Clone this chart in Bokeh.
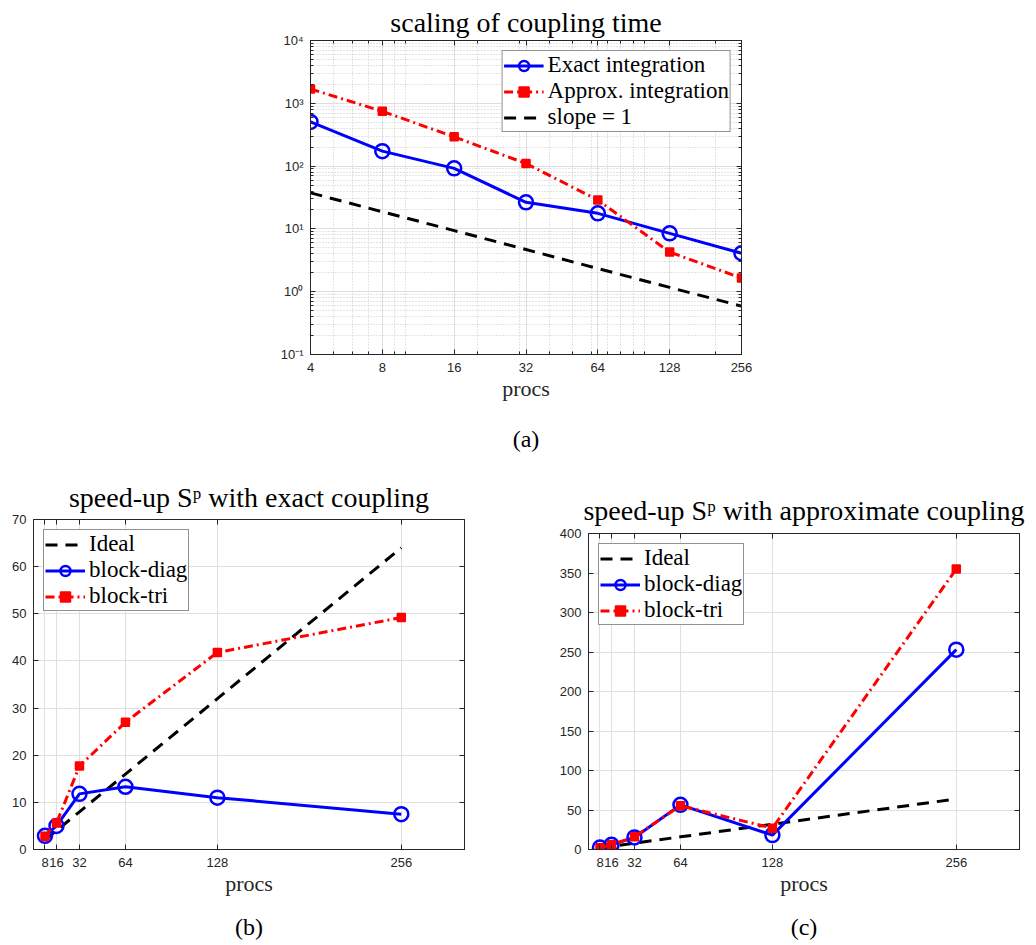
from bokeh.plotting import figure
from bokeh.models import (FixedTicker, CustomJSTickFormatter, LinearAxis, LogAxis,
                          Spacer, Range1d)
from bokeh.layouts import column, row
from bokeh.embed import file_html
from bokeh.resources import INLINE

# ---------------- data ----------------
procs_a = [4, 8, 16, 32, 64, 128, 256]
exact_time = [505, 173, 92, 26.5, 17.7, 8.5, 4.1]
approx_time = [1690, 746, 292, 110, 28.8, 4.27, 1.65]
slope_ref = [37.5, 18.75, 9.4, 4.7, 2.34, 1.17, 0.59]

procs_bc = [8, 16, 32, 64, 128, 256]
ideal = [2, 4, 8, 16, 32, 64]
exact_diag = [2.9, 5.0, 11.8, 13.3, 11.0, 7.5]
exact_tri = [2.8, 5.6, 17.7, 27.0, 41.8, 49.2]
approx_diag = [2.5, 5.9, 15.3, 56.5, 18.2, 253.0]
approx_tri = [2.2, 5.9, 16.0, 55.5, 27.0, 355.0]

xticks_a = [4, 8, 16, 32, 64, 128, 256]
xlabels_a = ["4", "8", "16", "32", "64", "128", "256"]
yticks_a = [0.1, 1, 10, 100, 1000, 10000]
ylabels_a = ["10\u207b\u00b9", "10\u2070", "10\u00b9", "10\u00b2", "10\u00b3", "10\u2074"]
xticks_bc = [8, 16, 32, 64, 128, 256]
xlabels_bc = ["8", "16", "32", "64", "128", "256"]
yticks_b = [0, 10, 20, 30, 40, 50, 60, 70]
yticks_c = [0, 50, 100, 150, 200, 250, 300, 350, 400]

SERIF = "Liberation Serif"
SANS = "Liberation Sans"
AX = "#262626"
GRID = "#dfdfdf"
MINOR = "#c8c8c8"
BLUE = "#0000ff"
RED = "#ff0000"


def label_fmt(tv, tl):
    return CustomJSTickFormatter(args=dict(tv=tv, tl=tl), code="""
        for (let i = 0; i < tv.length; i++) {
            if (Math.abs(tick - tv[i]) <= 1e-6 * Math.max(1, Math.abs(tv[i]))) return tl[i];
        }
        return '';
    """)


def blank_fmt():
    return CustomJSTickFormatter(code="return '';")


def style_axis(ax, ticker, fmt, minor=False):
    ax.ticker = ticker
    ax.formatter = fmt
    ax.axis_line_color = AX
    ax.axis_line_width = 1
    ax.major_tick_line_color = AX
    ax.minor_tick_line_color = AX
    ax.major_tick_in = 5
    ax.major_tick_out = 0
    ax.minor_tick_in = 3 if minor else 0
    ax.minor_tick_out = 0
    ax.major_label_text_font = SANS
    ax.major_label_text_font_size = "13px"
    ax.major_label_text_color = AX
    ax.major_label_standoff = 8


def make_fig(width, height, borders, xr, yr, xtype, ytype, title, xt, xl, yt, yl,
             xminor=None, yminor=None, sub="", title_standoff=5, title_valign="bottom",
             sub_standoff=10):
    p = figure(width=width, height=height, x_axis_type=xtype, y_axis_type=ytype,
               x_range=xr, y_range=yr, toolbar_location=None, output_backend="svg",
               min_border_left=borders[0], min_border_right=borders[1],
               min_border_top=borders[2], min_border_bottom=borders[3])
    p.frame_align = False
    p.background_fill_color = "white"
    p.border_fill_color = "white"
    p.outline_line_color = AX
    p.outline_line_width = 1
    xtick = FixedTicker(ticks=xt, minor_ticks=xminor or [])
    ytick = FixedTicker(ticks=yt, minor_ticks=yminor or [])
    AxT = LogAxis if xtype == "log" else LinearAxis
    AyT = LogAxis if ytype == "log" else LinearAxis
    p.add_layout(AxT(), "above")
    p.add_layout(AyT(), "right")
    main_x = p.below[0]
    style_axis(main_x, xtick, label_fmt(xt, xl), xminor is not None)
    for ax in p.left:
        style_axis(ax, ytick, label_fmt(yt, yl), yminor is not None)
    ax.major_label_standoff = 7
    for ax in list(p.above) + list(p.right):
        tk = xtick if ax in p.above else ytick
        mn = (xminor if ax in p.above else yminor) is not None
        style_axis(ax, tk, blank_fmt(), mn)
        ax.major_label_standoff = 0
        ax.major_label_text_font_size = "0px"
    p.xgrid.ticker = xtick
    p.ygrid.ticker = ytick
    for g in (p.xgrid, p.ygrid):
        g.grid_line_color = GRID
        g.grid_line_width = 1
    if xminor is not None:
        p.xgrid.minor_grid_line_color = MINOR
        p.xgrid.minor_grid_line_dash = "1 2"
    if yminor is not None:
        p.ygrid.minor_grid_line_color = MINOR
        p.ygrid.minor_grid_line_dash = "1 2"
    p.title.text = title
    p.title.align = "center"
    p.title.vertical_align = title_valign
    p.title.text_font = SERIF
    p.title.text_font_size = "28px"
    p.title.text_font_style = "normal"
    p.title.text_color = "black"
    p.title.standoff = title_standoff
    main_x.axis_label = "procs"
    main_x.axis_label_text_font = SERIF
    main_x.axis_label_text_font_size = "22px"
    main_x.axis_label_text_font_style = "normal"
    main_x.axis_label_text_color = AX
    main_x.axis_label_standoff = 1
    # sub-figure caption, carried by a bare axis below the main one
    cap = AxT(ticker=FixedTicker(ticks=[]), formatter=blank_fmt())
    cap.axis_line_color = None
    cap.major_tick_line_color = None
    cap.minor_tick_line_color = None
    cap.major_tick_in = 0
    cap.major_tick_out = 0
    cap.minor_tick_in = 0
    cap.minor_tick_out = 0
    cap.major_label_standoff = 0
    cap.major_label_text_font_size = "0px"
    cap.axis_label = sub
    cap.axis_label_text_font = SERIF
    cap.axis_label_text_font_size = "24px"
    cap.axis_label_text_font_style = "normal"
    cap.axis_label_text_color = "black"
    cap.axis_label_standoff = sub_standoff
    p.add_layout(cap, "below")
    return p


def style_legend(p, loc):
    lg = p.legend[0]
    lg.location = loc
    lg.margin = 10
    lg.padding = 1
    lg.spacing = 0
    lg.glyph_width = 40
    lg.glyph_height = 25
    lg.label_height = 25
    lg.label_standoff = 4
    lg.label_text_font = SERIF
    lg.label_text_font_size = "23px"
    lg.label_text_color = "black"
    lg.border_line_color = AX
    lg.border_line_width = 1
    lg.background_fill_color = "white"
    lg.background_fill_alpha = 1


def add_blue(p, x, y, lab):
    p.line(x, y, line_color=BLUE, line_width=3, legend_label=lab)
    p.scatter(x, y, marker="circle", size=14, line_color=BLUE, line_width=2.5,
              fill_color=None, legend_label=lab)


def add_red(p, x, y, lab):
    p.line(x, y, line_color=RED, line_width=3, line_dash="9 4 2 4", legend_label=lab)
    p.scatter(x, y, marker="square", size=8, line_color=RED, line_width=1.5,
              fill_color=RED, legend_label=lab)


def add_black(p, x, y, lab):
    p.line(x, y, line_color="black", line_width=3, line_dash="12 8", legend_label=lab)


# ---------------- (a) ----------------
xminor_a = [5, 6, 7, 9, 10, 20, 30, 40, 50, 60, 70, 80, 90, 100, 200]
yminor_a = [m * 10.0 ** k for k in range(-1, 4) for m in range(2, 10)]
pa = make_fig(540, 454, (60, 49, 40, 99), Range1d(4, 256), Range1d(0.1, 10000), "log", "log",
              "scaling of coupling time", xticks_a, xlabels_a, yticks_a, ylabels_a,
              xminor=xminor_a, yminor=yminor_a, sub="(a)", title_standoff=2,
              title_valign="top", sub_standoff=22)
add_blue(pa, procs_a, exact_time, "Exact integration")
add_red(pa, procs_a, approx_time, "Approx. integration")
add_black(pa, procs_a, slope_ref, "slope = 1")
style_legend(pa, "top_right")

# ---------------- (b) ----------------
pb = make_fig(518, 491, (33, 54, 65, 96), Range1d(0, 300), Range1d(0, 70), "linear", "linear",
              "speed-up S\u1d56 with exact coupling", xticks_bc, xlabels_bc, yticks_b,
              [str(v) for v in yticks_b], sub="(b)", title_standoff=14, sub_standoff=15)
add_black(pb, procs_bc, ideal, "Ideal")
add_blue(pb, procs_bc, exact_diag, "block-diag")
add_red(pb, procs_bc, exact_tri, "block-tri")
style_legend(pb, "top_left")

# ---------------- (c) ----------------
pc = make_fig(518, 491, (70, 17, 79, 96), Range1d(0, 300), Range1d(0, 400), "linear", "linear",
              "speed-up S\u1d56 with approximate coupling", xticks_bc, xlabels_bc, yticks_c,
              [str(v) for v in yticks_c], sub="(c)", title_standoff=15, sub_standoff=15)
add_black(pc, procs_bc, ideal, "Ideal")
add_blue(pc, procs_bc, approx_diag, "block-diag")
add_red(pc, procs_bc, approx_tri, "block-tri")
style_legend(pc, "top_left")

layout = column(row(Spacer(width=250, height=454), pa), row(pb, pc))
open("out.html", "w").write(file_html(layout, INLINE))
